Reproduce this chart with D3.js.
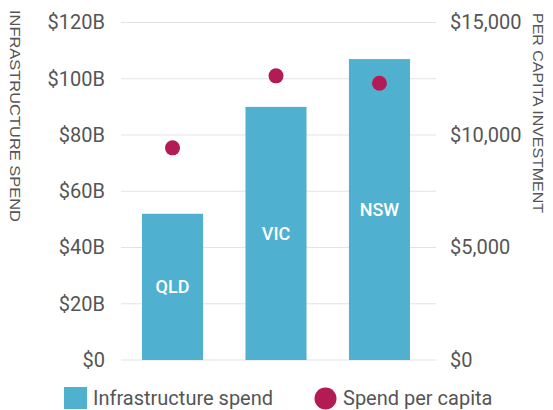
<!DOCTYPE html>
<html><head><meta charset="utf-8">
<script src="https://cdn.jsdelivr.net/npm/d3@7"></script>
<style>body{margin:0;background:#fff}svg{display:block}</style>
</head><body>
<svg id="chart" width="553" height="410"></svg>
<script>
const states = ["QLD", "VIC", "NSW"];
const spendBillions = [52, 90, 107];
const perCapita = [9430, 12630, 12300];
const leftTicks = [0, 20, 40, 60, 80, 100, 120];
const rightTicks = [0, 5000, 10000, 15000];
const legendLabels = ["Infrastructure spend", "Spend per capita"];

const barColor = "#4FB1CF", dotColor = "#B31B55", textColor = "#555", gridColor = "#e3e3e3";
const svg = d3.select("#chart");
const x0 = 121, x1 = 436, yTop = 22.5, yBot = 360;
const x = d3.scaleBand().domain(states).range([121, 431]).paddingInner(0.41).paddingOuter(0.203);
const yL = d3.scaleLinear().domain([0, 120]).range([yBot, yTop]);
const yR = d3.scaleLinear().domain([0, 15000]).range([yBot, yTop]);
const font = "Roboto, 'DejaVu Sans', sans-serif";
const fs = 20;

// grid
svg.append("g").selectAll("line").data(leftTicks).join("line")
  .attr("x1", x0).attr("x2", x1).attr("y1", d => yL(d)).attr("y2", d => yL(d))
  .attr("stroke", gridColor).attr("stroke-width", 1.2);

// left axis
const la = svg.append("g").attr("transform", `translate(${x0},0)`)
  .call(d3.axisLeft(yL).tickValues(leftTicks).tickSize(0).tickPadding(16).tickFormat(d => d === 0 ? "$0" : `$${d}B`));
la.select(".domain").remove();
la.selectAll("text").attr("font-family", font).attr("font-size", fs).attr("fill", textColor);

// right axis
const ra = svg.append("g").attr("transform", `translate(${x1},0)`)
  .call(d3.axisRight(yR).tickValues(rightTicks).tickSize(0).tickPadding(14).tickFormat(d => "$" + d3.format(",")(d)));
ra.select(".domain").remove();
ra.selectAll("text").attr("font-family", font).attr("font-size", fs).attr("fill", textColor);

// bars
svg.append("g").selectAll("rect").data(states).join("rect")
  .attr("x", d => x(d)).attr("width", x.bandwidth())
  .attr("y", (d, i) => yL(spendBillions[i])).attr("height", (d, i) => yBot - yL(spendBillions[i]))
  .attr("fill", barColor);

// bar labels
svg.append("g").selectAll("text").data(states).join("text")
  .attr("x", d => x(d) + x.bandwidth() / 2)
  .attr("y", (d, i) => yL(spendBillions[i] / 2))
  .attr("dy", "0.35em").attr("text-anchor", "middle")
  .attr("font-family", font).attr("font-weight", 500).attr("font-size", 18).attr("fill", "#fff")
  .text(d => d);

// dots
svg.append("g").selectAll("circle").data(states).join("circle")
  .attr("cx", d => x(d) + x.bandwidth() / 2).attr("cy", (d, i) => yR(perCapita[i]))
  .attr("r", 7.5).attr("fill", dotColor);

// axis titles
svg.append("text").attr("transform", "translate(10,10) rotate(90)")
  .attr("font-family", "'Liberation Sans', Arial, sans-serif").attr("font-size", 14).attr("font-weight", 300)
  .attr("fill", textColor).attr("textLength", 212).attr("lengthAdjust", "spacingAndGlyphs")
  .text("INFRASTRUCTURE SPEND");
svg.append("text").attr("transform", "translate(533,13) rotate(90)")
  .attr("font-family", "'Liberation Sans', Arial, sans-serif").attr("font-size", 14).attr("font-weight", 300)
  .attr("fill", textColor).attr("textLength", 200).attr("lengthAdjust", "spacingAndGlyphs")
  .text("PER CAPITA INVESTMENT");

// legend
svg.append("rect").attr("x", 64).attr("y", 387).attr("width", 23).attr("height", 22).attr("fill", barColor);
svg.append("text").attr("x", 93).attr("y", 405).attr("font-family", font).attr("font-size", fs)
  .attr("fill", textColor).text(legendLabels[0]);
svg.append("circle").attr("cx", 325.5).attr("cy", 398.5).attr("r", 11).attr("fill", dotColor);
svg.append("text").attr("x", 343).attr("y", 405).attr("font-family", font).attr("font-size", fs)
  .attr("fill", textColor).text(legendLabels[1]);
</script>
</body></html>
